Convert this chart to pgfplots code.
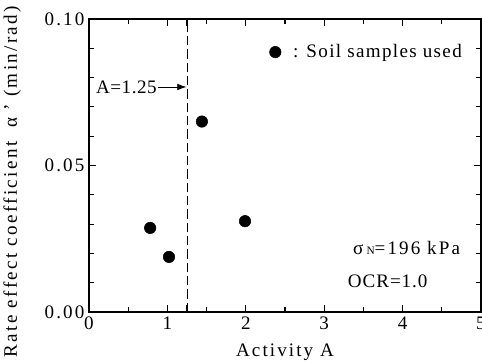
\documentclass[border=0pt]{standalone}
\usepackage{fontspec}
\setmainfont[LetterSpace=11]{Liberation Serif}
\usepackage{pgfplots}
\pgfplotsset{compat=1.18}
\usetikzlibrary{arrows.meta}
\newcommand{\fs}{\fontsize{14.3}{16}\selectfont}
\begin{document}
\begin{tikzpicture}
\begin{axis}[
  scale only axis, width=294pt, height=219.75pt,
  xmin=0, xmax=5, ymin=0, ymax=0.1,
  xtick={0,1,2,3,4,5}, minor xtick={0.5,1.5,2.5,3.5,4.5},
  extra x ticks={1.25}, extra x tick labels={},
  ytick={0,0.05,0.1},
  minor ytick={0.01,0.02,0.03,0.04,0.06,0.07,0.08,0.09},
  tick align=inside, major tick length=5.5pt, minor tick length=4pt,
  axis line style={line width=0.8pt},
  every tick/.style={black, line width=0.8pt},
  yticklabel style={/pgf/number format/.cd, fixed, fixed zerofill, precision=2},
  /pgf/number format/assume math mode=true,
  ticklabel style={font=\fs},
  label style={font=\fs},
  xlabel={Activity A},
  ylabel={\addfontfeatures{LetterSpace=12.3}Rate effect coefficient\ \ α\ ' (min/rad)},
  xlabel style={at={(axis description cs:0.5,-0.1365)}, anchor=center},
  ylabel style={at={(axis description cs:-0.196,0.445)}, anchor=center, rotate=0},
  legend style={draw=none, fill=none, at={(axis description cs:0.46,0.887)}, anchor=west,
    font=\fs, inner sep=0pt},
  legend image code/.code={\draw[mark=*, mark size=4.3pt, black] plot coordinates {(0.15cm,0cm)};},
]
\addplot[only marks, mark=*, mark size=4.3pt, black] coordinates {
  (0.78,0.0287) (1.02,0.0188) (1.44,0.065) (1.99,0.031)
};
\addlegendentry{\addfontfeatures{LetterSpace=7}\hspace{7pt}: Soil samples used}
\addplot[black, line width=0.7pt, dash pattern=on 7pt off 3pt, forget plot] coordinates {(1.25,0) (1.25,0.1)};
\draw[-{Latex[length=7pt,width=5pt]}, line width=0.7pt] (axis cs:0.885,0.0768) -- (axis cs:1.245,0.0768);
\node[anchor=east, inner sep=1pt, font=\fs] at (axis cs:0.885,0.0768) {\addfontfeatures{LetterSpace=3}A=1.25};
\node[anchor=center, font=\fs] at (axis cs:4.05,0.0218) {σ\,{\fontsize{8.5}{9}\selectfont N}=196 kPa};
\node[anchor=center, font=\fs] at (axis cs:3.81,0.0106) {\addfontfeatures{LetterSpace=5}OCR=1.0};
\end{axis}
\pgfresetboundingbox
\path[use as bounding box] ([xshift=-66.75pt, yshift=-37.5pt]current axis.south west) rectangle ([xshift=0.75pt, yshift=14.25pt]current axis.north east);
\end{tikzpicture}
\end{document}
